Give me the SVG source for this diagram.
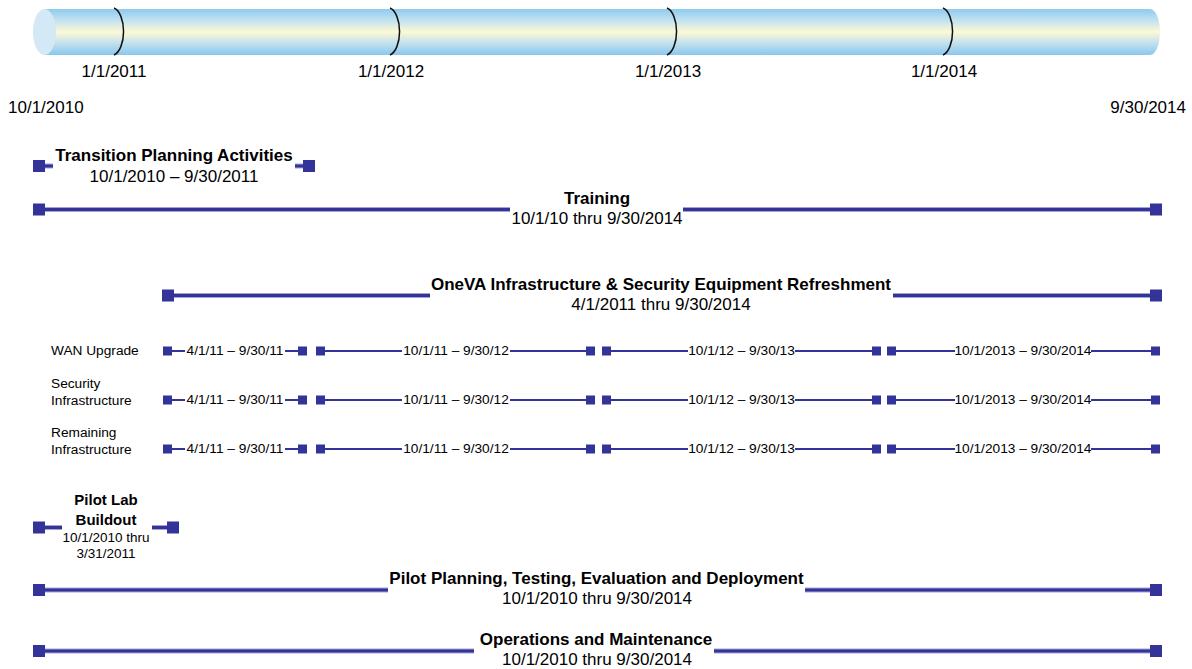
<svg xmlns="http://www.w3.org/2000/svg" width="1192" height="669" viewBox="0 0 1192 669">
  <defs>
    <linearGradient id="tube" x1="0" y1="0" x2="0" y2="1">
      <stop offset="0" stop-color="#8fcbef"/>
      <stop offset="0.25" stop-color="#c3e2ef"/>
      <stop offset="0.5" stop-color="#fdf9d5"/>
      <stop offset="0.75" stop-color="#c0e0ef"/>
      <stop offset="1" stop-color="#8ac7ee"/>
    </linearGradient>
    <style>
      text { font-family: "Liberation Sans", Arial, sans-serif; fill: #000; }
      .lbl { font-size: 17px; }
      .ttl { font-size: 17px; font-weight: bold; }
      .sub { font-size: 17px; }
      .sm { font-size: 13.7px; }
      .plt { font-size: 15px; font-weight: bold; }
      .pl { font-size: 13.5px; }
      .m { text-anchor: middle; }
      .bar-hi { stroke: #a3a3d3; stroke-width: 5; fill: none; }
      .bar { stroke: #333399; stroke-width: 3; fill: none; }
      .thin { stroke: #333399; stroke-width: 2; fill: none; }
      .sq { fill: #333399; }
      .tick { stroke: #111; stroke-width: 1.5; fill: none; }
    </style>
  </defs>

  <!-- timeline tube -->
  <g id="timeline">
    <path d="M45,9 H1150 A10,23 0 0 1 1150,55 H45 Z" fill="url(#tube)"/>
    <ellipse cx="44.5" cy="32" rx="11.5" ry="23" fill="#d3e9f6"/>
    <path class="tick" d="M114,8 A12,24 0 0 1 114,55"/>
    <path class="tick" d="M390,8 A12,24 0 0 1 390,55"/>
    <path class="tick" d="M667,8 A12,24 0 0 1 667,55"/>
    <path class="tick" d="M943,8 A12,24 0 0 1 943,55"/>
    <text class="lbl m" x="114" y="77">1/1/2011</text>
    <text class="lbl m" x="391" y="77">1/1/2012</text>
    <text class="lbl m" x="668" y="77">1/1/2013</text>
    <text class="lbl m" x="944" y="77">1/1/2014</text>
    <text class="lbl" x="8" y="113">10/1/2010</text>
    <text class="lbl" x="1186" y="113" text-anchor="end">9/30/2014</text>
  </g>

  <!-- connectors: bars between start and end markers -->
  <g id="connectors">
    <!-- Transition Planning -->
    <path class="bar-hi" d="M45,166 H53 M295,166 H303"/>
    <path class="bar" d="M45,166 H53 M295,166 H303"/>
    <!-- Training -->
    <path class="bar-hi" d="M45,209.5 H510 M683,209.5 H1150"/>
    <path class="bar" d="M45,209.5 H510 M683,209.5 H1150"/>
    <!-- OneVA -->
    <path class="bar-hi" d="M174,295.5 H430 M893,295.5 H1150"/>
    <path class="bar" d="M174,295.5 H430 M893,295.5 H1150"/>
    <!-- sub rows -->
    <path class="thin" d="M172,351 H185 M285,351 H298 M325,351 H402 M510,351 H586 M611,351 H688 M795,351 H872 M896,351 H955 M1091,351 H1151"/>
    <path class="thin" d="M172,400 H185 M285,400 H298 M325,400 H402 M510,400 H586 M611,400 H688 M795,400 H872 M896,400 H955 M1091,400 H1151"/>
    <path class="thin" d="M172,449 H185 M285,449 H298 M325,449 H402 M510,449 H586 M611,449 H688 M795,449 H872 M896,449 H955 M1091,449 H1151"/>
    <!-- Pilot Lab -->
    <path class="bar-hi" d="M45,527.5 H62 M152,527.5 H167"/>
    <path class="bar" d="M45,527.5 H62 M152,527.5 H167"/>
    <!-- Pilot Planning -->
    <path class="bar-hi" d="M45,590 H388 M805,590 H1150"/>
    <path class="bar" d="M45,590 H388 M805,590 H1150"/>
    <!-- Operations -->
    <path class="bar-hi" d="M45,651 H474 M714,651 H1150"/>
    <path class="bar" d="M45,651 H474 M714,651 H1150"/>
  </g>

  <g id="transition">
    <rect class="sq" x="33" y="160" width="12" height="12"/>
    <rect class="sq" x="303" y="160" width="12" height="12"/>
    <text class="ttl m" x="174" y="161">Transition Planning Activities</text>
    <text class="sub m" x="174" y="182">10/1/2010 – 9/30/2011</text>
  </g>

  <g id="training">
    <rect class="sq" x="33" y="203.5" width="12" height="12"/>
    <rect class="sq" x="1150" y="203.5" width="12" height="12"/>
    <text class="ttl m" x="597" y="204">Training</text>
    <text class="sub m" x="597" y="224">10/1/10 thru 9/30/2014</text>
  </g>

  <g id="oneva">
    <rect class="sq" x="162" y="289.5" width="12" height="12"/>
    <rect class="sq" x="1150" y="289.5" width="12" height="12"/>
    <text class="ttl m" x="661" y="290">OneVA Infrastructure &amp; Security Equipment Refreshment</text>
    <text class="sub m" x="661" y="310">4/1/2011 thru 9/30/2014</text>
  </g>

  <g id="wan">
    <text class="sm" x="51" y="355">WAN Upgrade</text>
    <rect class="sq" x="163" y="346.5" width="9" height="9"/>
    <rect class="sq" x="298" y="346.5" width="9" height="9"/>
    <rect class="sq" x="316" y="346.5" width="9" height="9"/>
    <rect class="sq" x="586" y="346.5" width="9" height="9"/>
    <rect class="sq" x="602" y="346.5" width="9" height="9"/>
    <rect class="sq" x="872" y="346.5" width="9" height="9"/>
    <rect class="sq" x="887" y="346.5" width="9" height="9"/>
    <rect class="sq" x="1151" y="346.5" width="9" height="9"/>
    <text class="sm m" x="235" y="355">4/1/11 – 9/30/11</text>
    <text class="sm m" x="456" y="355">10/1/11 – 9/30/12</text>
    <text class="sm m" x="741.5" y="355">10/1/12 – 9/30/13</text>
    <text class="sm m" x="1023" y="355">10/1/2013 – 9/30/2014</text>
  </g>

  <g id="security">
    <text class="sm" x="51" y="388">Security</text>
    <text class="sm" x="51" y="405">Infrastructure</text>
    <rect class="sq" x="163" y="395.5" width="9" height="9"/>
    <rect class="sq" x="298" y="395.5" width="9" height="9"/>
    <rect class="sq" x="316" y="395.5" width="9" height="9"/>
    <rect class="sq" x="586" y="395.5" width="9" height="9"/>
    <rect class="sq" x="602" y="395.5" width="9" height="9"/>
    <rect class="sq" x="872" y="395.5" width="9" height="9"/>
    <rect class="sq" x="887" y="395.5" width="9" height="9"/>
    <rect class="sq" x="1151" y="395.5" width="9" height="9"/>
    <text class="sm m" x="235" y="404">4/1/11 – 9/30/11</text>
    <text class="sm m" x="456" y="404">10/1/11 – 9/30/12</text>
    <text class="sm m" x="741.5" y="404">10/1/12 – 9/30/13</text>
    <text class="sm m" x="1023" y="404">10/1/2013 – 9/30/2014</text>
  </g>

  <g id="remaining">
    <text class="sm" x="51" y="437">Remaining</text>
    <text class="sm" x="51" y="454">Infrastructure</text>
    <rect class="sq" x="163" y="444.5" width="9" height="9"/>
    <rect class="sq" x="298" y="444.5" width="9" height="9"/>
    <rect class="sq" x="316" y="444.5" width="9" height="9"/>
    <rect class="sq" x="586" y="444.5" width="9" height="9"/>
    <rect class="sq" x="602" y="444.5" width="9" height="9"/>
    <rect class="sq" x="872" y="444.5" width="9" height="9"/>
    <rect class="sq" x="887" y="444.5" width="9" height="9"/>
    <rect class="sq" x="1151" y="444.5" width="9" height="9"/>
    <text class="sm m" x="235" y="453">4/1/11 – 9/30/11</text>
    <text class="sm m" x="456" y="453">10/1/11 – 9/30/12</text>
    <text class="sm m" x="741.5" y="453">10/1/12 – 9/30/13</text>
    <text class="sm m" x="1023" y="453">10/1/2013 – 9/30/2014</text>
  </g>

  <g id="pilot-lab">
    <rect class="sq" x="33" y="521.5" width="12" height="12"/>
    <rect class="sq" x="167" y="521.5" width="12" height="12"/>
    <text class="plt m" x="106" y="505">Pilot Lab</text>
    <text class="plt m" x="106" y="525">Buildout</text>
    <text class="pl m" x="106" y="542">10/1/2010 thru</text>
    <text class="pl m" x="106" y="558">3/31/2011</text>
  </g>

  <g id="pilot-planning">
    <rect class="sq" x="33" y="584" width="12" height="12"/>
    <rect class="sq" x="1150" y="584" width="12" height="12"/>
    <text class="ttl m" x="596.5" y="584">Pilot Planning, Testing, Evaluation and Deployment</text>
    <text class="sub m" x="597" y="604">10/1/2010 thru 9/30/2014</text>
  </g>

  <g id="operations">
    <rect class="sq" x="33" y="645" width="12" height="12"/>
    <rect class="sq" x="1150" y="645" width="12" height="12"/>
    <text class="ttl m" x="596" y="645">Operations and Maintenance</text>
    <text class="sub m" x="597" y="665">10/1/2010 thru 9/30/2014</text>
  </g>
</svg>
